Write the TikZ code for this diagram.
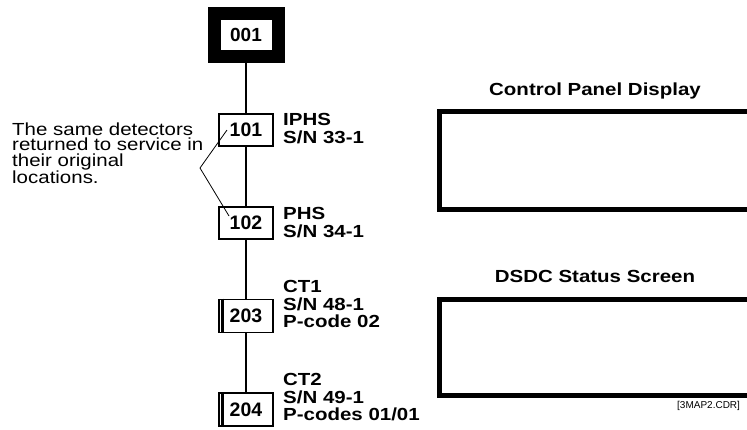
\documentclass[tikz,border=0pt]{standalone}
\usepackage{fontspec}
\setmainfont{Liberation Sans}
\newfontfamily\widefam[FakeStretch=1.17]{Liberation Sans}
\begin{document}
\begin{tikzpicture}[x=1pt,y=-1pt,
  numbox/.style={draw, fill=white, line width=1.8pt, minimum width=54pt, minimum height=32pt,
    inner sep=0pt, font=\fontsize{19.5}{20}\selectfont\bfseries},
  topbox/.style={draw, fill=white, line width=13pt, minimum width=64pt, minimum height=43pt,
    inner sep=0pt, font=\fontsize{19}{20}\selectfont\bfseries},
  lbl/.style={anchor=north west, align=left, inner sep=0pt,
    font=\widefam\bfseries\fontsize{17.5}{17.3}\selectfont},
  note/.style={anchor=north west, align=left, inner sep=0pt,
    font=\widefam\fontsize{17.5}{15.6}\selectfont},
  title/.style={anchor=base, inner sep=0pt, font=\widefam\bfseries\fontsize{17.5}{18}\selectfont},
  link/.style={line width=2.6pt},
  callout/.style={line width=0.8pt},
  screen/.style={line width=5pt}]
\useasboundingbox (0,0) rectangle (747,429);
% chain of links drawn first
\node[topbox] (n001) at (246,35) {001};
\node[numbox] (n101) at (246,130) {101};
\node[numbox] (n102) at (246,223) {102};
\node[numbox, minimum height=33pt] (n203) at (246,316) {203};
\node[numbox, minimum height=33pt] (n204) at (246,409.5) {204};
\begin{scope}[on background layer/.try]
\end{scope}
\draw[link] (n001) -- (n101);
\draw[link] (n101) -- (n102);
\draw[link] (n102) -- (n203);
\draw[link] (n203) -- (n204);
% double left edges
\draw[line width=2.8pt] ([xshift=4.5pt]n203.north west) -- ([xshift=4.5pt]n203.south west);
\draw[line width=2.8pt] ([xshift=4.5pt]n204.north west) -- ([xshift=4.5pt]n204.south west);
% labels
\node[lbl] (l101) at (283,113.5) {IPHS\\S/N 33-1};
\node[lbl] (l102) at (283,207.5) {PHS\\S/N 34-1};
\node[lbl] (l203) at (283,280.5) {CT1\\S/N 48-1\\P-code 02};
\node[lbl] (l204) at (283,373.5) {CT2\\S/N 49-1\\P-codes 01/01};
% note
\node[note] (nt) at (12,122.2) {The same detectors\\returned to service in\\their original\\locations.};
\coordinate (cv) at (200,168);
\coordinate (ca) at (227,130);
\coordinate (cb) at (229,216);
\draw[callout] (ca) -- (cv) -- (cb);
% screens
\node[title] (t1) at (595,95) {Control Panel Display};
\node[title] (t2) at (595,282.7) {DSDC Status Screen};
\begin{scope}
\clip (0,0) rectangle (747,429);
\draw[screen] (439.5,111.5) rectangle (770,209.5);
\draw[screen] (439.5,299.5) rectangle (770,395.5);
\end{scope}
\node[anchor=base west, inner sep=0pt, font=\fontsize{10}{12}\selectfont] (ref) at (677,408.5) {[3MAP2.CDR]};
\end{tikzpicture}
\end{document}
